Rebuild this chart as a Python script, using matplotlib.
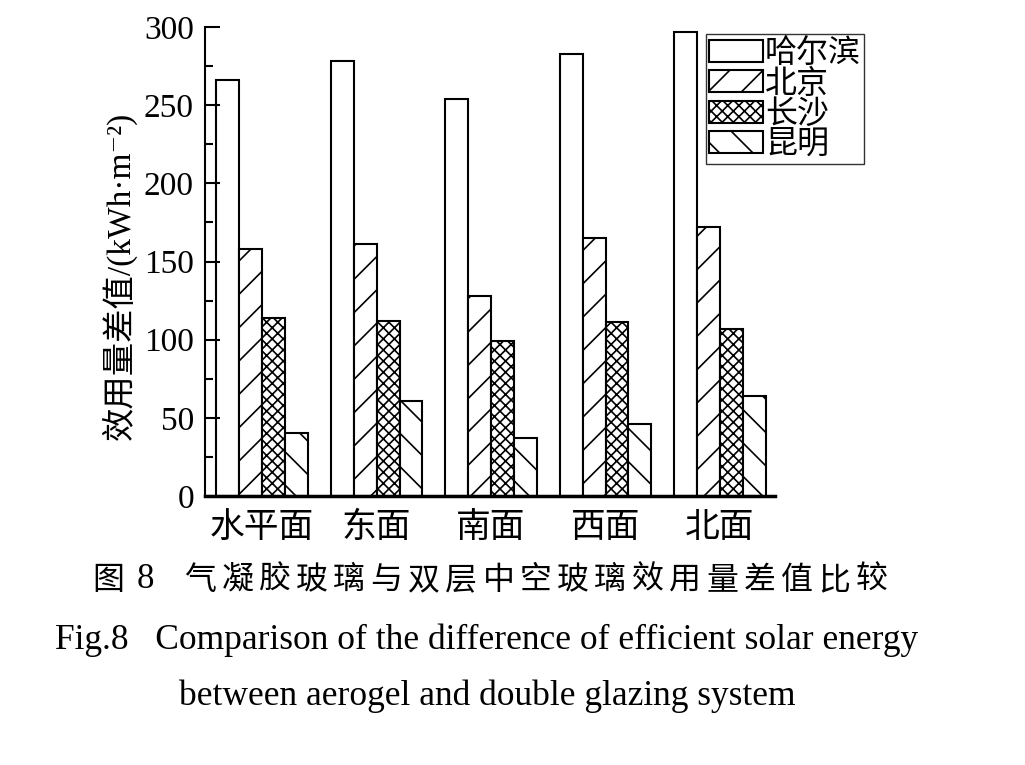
import matplotlib
matplotlib.use('Agg')
import matplotlib.pyplot as plt
import numpy as np
from matplotlib.ticker import MultipleLocator

plt.rcParams['font.family'] = ['Liberation Serif', 'DejaVu Serif', 'Noto Sans CJK SC']
plt.rcParams['hatch.linewidth'] = 1.2

# data
faces = ['水平面', '东面', '南面', '西面', '北面']
cities = ['哈尔滨', '北京', '长沙', '昆明']
harbin = [266, 278, 254, 283, 297]
beijing = [158, 161, 128, 165, 172]
changsha = [114, 112, 99, 111, 107]
kunming = [40, 61, 37, 46, 64]
hatches = ['', '/', 'xxx', '\\']

cjk = ['Noto Sans CJK SC']

fig = plt.figure(figsize=(10.25, 7.65), dpi=100)
ax = fig.add_axes([0.2, 0.3516, 0.556, 0.6131])

x = np.arange(len(faces))
w = 0.2
for i, (vals, name) in enumerate(zip([harbin, beijing, changsha, kunming], cities)):
    ax.bar(x + (i - 1.5) * w, vals, w, color='white', edgecolor='black',
           linewidth=1.5, hatch=hatches[i], label=name)

ax.set_xlim(-0.5, 4.48)
ax.set_ylim(0, 300)
ax.yaxis.set_major_locator(MultipleLocator(50))
ax.yaxis.set_minor_locator(MultipleLocator(25))
ax.tick_params(axis='y', which='major', direction='in', length=11, width=1.5, labelsize=24, pad=8)
ax.tick_params(axis='y', which='minor', direction='in', length=6, width=1.5)
ax.tick_params(axis='x', length=0, labelsize=25, pad=10)
ax.set_xticks(x)
ax.set_xticklabels(faces, family=cjk)
for s in ['top', 'right']:
    ax.spines[s].set_visible(False)
ax.spines['left'].set_linewidth(1.5)
ax.spines['bottom'].set_linewidth(2.5)
ax.set_ylabel('效用量差值/(kWh·m⁻²)', fontsize=24)
ax.yaxis.set_label_coords(-0.12, 0.47)

leg = ax.legend(loc='upper left', bbox_to_anchor=(0.879, 0.985),
                prop={'family': cjk, 'size': 23},
                frameon=True, fancybox=False, edgecolor='black',
                handlelength=1.7, handleheight=0.68, handletextpad=0.05,
                labelspacing=-0.05, borderpad=0.1, borderaxespad=0)
leg.get_frame().set_linewidth(1.0)

# Chinese caption, spaced out like the printed one
fig.text(108 / 1025, 0.242, '图', ha='center', va='center', fontsize=23, family=cjk)
fig.text(145 / 1025, 0.242, '8', ha='center', va='center', fontsize=25)
title_cn = '气凝胶玻璃与双层中空玻璃效用量差值比较'
for k, ch in enumerate(title_cn):
    fig.text((200 + 37.3 * k) / 1025, 0.242, ch, ha='center', va='center',
             fontsize=23, family=cjk)

fig.text(0.475, 0.163, 'Fig.8   Comparison of the difference of efficient solar energy',
         ha='center', va='center', fontsize=25.5)
fig.text(0.475, 0.09, 'between aerogel and double glazing system',
         ha='center', va='center', fontsize=25.5)

fig.savefig('out.png', dpi=100)
